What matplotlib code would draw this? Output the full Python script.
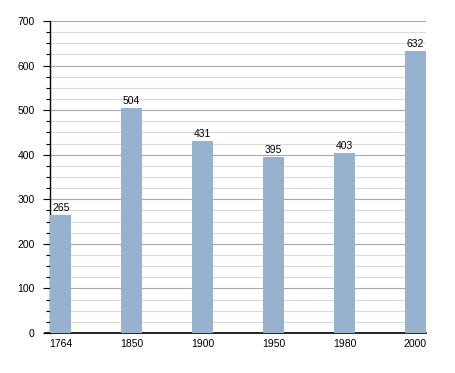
import matplotlib
matplotlib.use("Agg")
import matplotlib.pyplot as plt
from matplotlib.ticker import MultipleLocator

years = ["1764", "1850", "1900", "1950", "1980", "2000"]
population = [265, 504, 431, 395, 403, 632]

plt.rcParams['font.family'] = ['Liberation Sans', 'DejaVu Sans']

fig = plt.figure(figsize=(4.55, 3.73), dpi=100)
ax = fig.add_axes([50/455, 1 - 333/373, 376/455, (333-21)/373])

x = list(range(len(years)))
ax.bar(x, population, width=0.3, color='#97b2cf', zorder=3)
for xi, v in zip(x, population):
    ax.text(xi, v + 5, str(v), ha='center', va='bottom', fontsize=7.5, color='black', zorder=4)

ax.set_xlim(-0.15, 5.15)
ax.set_ylim(0, 700)
ax.set_xticks(x)
ax.set_xticklabels(years, fontsize=7.5)
ax.yaxis.set_major_locator(MultipleLocator(100))
ax.yaxis.set_minor_locator(MultipleLocator(25))
ax.tick_params(axis='y', which='major', length=5, width=0.8, labelsize=7.5, pad=6)
ax.tick_params(axis='y', which='minor', length=3, width=0.8)
ax.tick_params(axis='x', length=0, labelsize=7.5, pad=4)

ax.grid(axis='y', which='major', color='#a8a8a8', linewidth=0.8, zorder=0)
ax.grid(axis='y', which='minor', color='#dadada', linewidth=0.8, zorder=0)
ax.set_axisbelow(True)

for s in ['top', 'right']:
    ax.spines[s].set_visible(False)
ax.spines['left'].set_linewidth(1.0)
ax.spines['bottom'].set_linewidth(1.2)
ax.spines['bottom'].set_bounds(-0.22, 5.15)

fig.savefig("out.png", dpi=100)
